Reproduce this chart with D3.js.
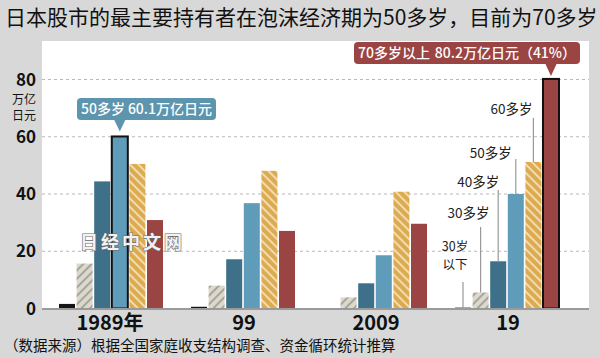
<!DOCTYPE html>
<html>
<head>
<meta charset="utf-8">
<script src="https://cdn.jsdelivr.net/npm/d3@7"></script>
<style>
  body { margin: 0; background: #d8d8d8; }
  svg { display: block; font-family: "Noto Sans CJK SC", sans-serif; }
</style>
</head>
<body>
<div id="chart"></div>
<script>
const years = ['1989年', '99', '2009', '19'];
const ages = ['30岁以下', '30多岁', '40多岁', '50多岁', '60多岁', '70多岁以上'];
const under30 = [1.6, 0.6, 0, 0.3];
const thirties = [15.7, 8.0, 3.9, 5.6];
const forties = [44.4, 17.2, 8.8, 16.5];
const fifties = [60.1, 36.8, 18.6, 40.0];
const sixties = [50.5, 48.1, 40.8, 51.2];
const seventies = [30.9, 27.1, 29.6, 80.2];
const yTicks = [0, 20, 40, 60, 80];
const series = [under30, thirties, forties, fifties, sixties, seventies];

const width = 600, height = 358;
const panel = { left: 42, top: 41, right: 589, bottom: 308 };

const svg = d3.select('#chart').append('svg')
  .attr('width', width).attr('height', height);

const defs = svg.append('defs');
function hatch(id, bg, line, angle, lw) {
  const p = defs.append('pattern').attr('id', id)
    .attr('patternUnits', 'userSpaceOnUse').attr('width', 6).attr('height', 6)
    .attr('patternTransform', `rotate(${angle})`);
  p.append('rect').attr('width', 6).attr('height', 6).attr('fill', bg);
  p.append('line').attr('x1', 3).attr('x2', 3).attr('y1', 0).attr('y2', 6)
    .attr('stroke', line).attr('stroke-width', lw);
}
hatch('grayHatch', '#dcd8cc', '#8c8a82', 45, 1.3);
hatch('goldHatch', '#dcab50', '#f8ecd2', -45, 1.5);

const fills = ['#151515', 'url(#grayHatch)', '#3f7089', '#5e9cb9', 'url(#goldHatch)', '#9b4444'];

svg.append('rect').attr('x', 0).attr('y', 0).attr('width', width).attr('height', height)
  .attr('fill', '#d8d8d8');
svg.append('rect').attr('x', panel.left).attr('y', panel.top)
  .attr('width', panel.right - panel.left).attr('height', panel.bottom - panel.top)
  .attr('fill', '#fff');

const x = d3.scaleBand().domain(years).range([46, 574]);
const xi = d3.scaleBand().domain(ages).range([13, 117]).paddingInner(0.09);
const y = d3.scaleLinear().domain([0, 80]).range([308.5, 79.5]);

// gridlines
svg.append('g').selectAll('line').data(yTicks.filter(d => d > 0)).join('line')
  .attr('x1', panel.left).attr('x2', panel.right)
  .attr('y1', d => y(d)).attr('y2', d => y(d))
  .attr('stroke', '#b8b8b8').attr('stroke-dasharray', '3,3');

// tick labels
svg.append('g').selectAll('text').data(yTicks).join('text')
  .attr('x', 36).attr('y', d => y(d)).attr('dy', '0.36em')
  .attr('text-anchor', 'end').attr('font-size', 17).attr('font-weight', 'bold')
  .attr('fill', '#111').text(d => d);
svg.append('text').attr('x', 24).attr('y', 104).attr('text-anchor', 'middle')
  .attr('font-size', 12).attr('fill', '#111').text('万亿');
svg.append('text').attr('x', 24).attr('y', 120).attr('text-anchor', 'middle')
  .attr('font-size', 12).attr('fill', '#111').text('日元');

// bars
const highlight = (gi, ai) => (gi === 0 && ai === 3) || (gi === 3 && ai === 5);
const groups = svg.append('g').selectAll('g').data(years).join('g')
  .attr('transform', d => `translate(${x(d)},0)`);
groups.selectAll('rect')
  .data((yr, gi) => series.map((s, ai) => ({ gi, ai, v: s[gi] })))
  .join('rect')
  .attr('x', d => xi(ages[d.ai]))
  .attr('width', xi.bandwidth())
  .attr('y', d => y(d.v))
  .attr('height', d => y(0) - y(d.v))
  .attr('fill', d => fills[d.ai])
  .attr('stroke', d => highlight(d.gi, d.ai) ? '#111' : 'none')
  .attr('stroke-width', 2);

// baseline
svg.append('line').attr('x1', panel.left).attr('x2', panel.right)
  .attr('y1', panel.bottom + 1).attr('y2', panel.bottom + 1)
  .attr('stroke', '#9a9a9a').attr('stroke-width', 2);

// x labels
svg.append('g').selectAll('text').data(years).join('text')
  .attr('x', d => x(d) + x.bandwidth() / 2 - (d === '1989年' ? 2 : 0))
  .attr('y', 330).attr('text-anchor', 'middle')
  .attr('font-size', 20).attr('font-weight', 'bold').attr('fill', '#111')
  .text(d => d);

// leader labels for the 2019 group
const leaderTop = [282, 227, 190, 159, 118];
const labelY = [[246, 264.5], [213], [182], [153], [109]];
const labelDx = [-8, -12, -20, -25, -22];
const labelText = [['30岁', '以下'], ['30多岁'], ['40多岁'], ['50多岁'], ['60多岁']];
const g19 = x('19');
labelText.forEach((lines, i) => {
  const cx = g19 + xi(ages[i]) + xi.bandwidth() / 2;
  svg.append('line').attr('x1', cx).attr('x2', cx)
    .attr('y1', leaderTop[i]).attr('y2', y(series[i][3]))
    .attr('stroke', '#999').attr('stroke-width', 1.2);
  lines.forEach((s, k) => {
    svg.append('text').attr('x', cx + labelDx[i]).attr('y', labelY[i][k])
      .attr('dy', '0.36em').attr('text-anchor', 'middle')
      .attr('font-size', lines.length > 1 ? 12.5 : 13.5).attr('fill', '#222').text(s);
  });
});

// callouts
function callout(left, right, color, tipX, tipY, boxLeft, boxTop, boxW, boxH) {
  const g = svg.append('g');
  g.append('rect').attr('x', boxLeft).attr('y', boxTop)
    .attr('width', boxW).attr('height', boxH).attr('rx', 4).attr('fill', color);
  g.append('path')
    .attr('d', `M${tipX - 6},${boxTop + boxH - 1} L${tipX + 6},${boxTop + boxH - 1} L${tipX},${tipY} Z`)
    .attr('fill', color);
  g.append('text').attr('x', boxLeft + 4).attr('y', boxTop + boxH / 2).attr('dy', '0.36em')
    .attr('font-size', 14).attr('fill', '#fff').attr('font-weight', 500).text(left);
  g.append('text').attr('x', boxLeft + boxW - 4).attr('y', boxTop + boxH / 2).attr('dy', '0.36em')
    .attr('text-anchor', 'end')
    .attr('font-size', 14).attr('fill', '#fff').attr('font-weight', 500).text(right);
}
const bx = x('1989年') + xi('50多岁') + xi.bandwidth() / 2;
callout('50多岁', '60.1万亿日元', '#5e95ae', bx, y(fifties[0]) - 5, 77, 98, 139, 22);
const rx = x('19') + xi('70多岁以上') + xi.bandwidth() / 2;
callout('70多岁以上', '80.2万亿日元（41%）', '#9b4444', rx, y(seventies[3]) - 3, 354, 42, 226, 22);

// watermark
svg.append('text').attr('x', 80).attr('y', 243).attr('dy', '0.36em')
  .attr('font-size', 18).attr('font-weight', 'bold').attr('letter-spacing', 3)
  .attr('fill', '#f2f2f2').attr('stroke', '#6a6a6a').attr('stroke-width', 1.2)
  .attr('paint-order', 'stroke').text('日经中文网');

// title and source
svg.append('text').attr('x', 5).attr('y', 25).attr('font-size', 21)
  .attr('fill', '#111').text('日本股市的最主要持有者在泡沫经济期为50多岁，目前为70多岁');
svg.append('text').attr('x', 4).attr('y', 351).attr('font-size', 14.5)
  .attr('fill', '#111').text('（数据来源）根据全国家庭收支结构调查、资金循环统计推算');
</script>
</body>
</html>
